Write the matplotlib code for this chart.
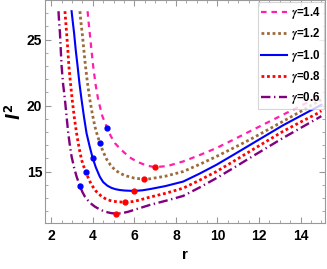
import matplotlib
matplotlib.use("Agg")
import matplotlib.pyplot as plt
from matplotlib.ticker import MultipleLocator

plt.rcParams['font.family'] = ['Liberation Sans', 'DejaVu Sans']
plt.rcParams['font.weight'] = 'bold'
plt.rcParams['mathtext.fontset'] = 'dejavusans'

# curves: r and l^2 for each gamma
r_14 = [3.75, 3.80, 3.86, 3.94, 4.02, 4.13, 4.26, 4.46, 4.69, 4.87, 5.06, 5.3, 5.54, 5.85, 6.2, 6.6,
        7.0, 7.6, 8.34, 9.15, 9.95, 10.75, 11.55, 12.35, 13.15, 13.95, 14.76, 15.0]
l2_14 = [27.15, 26.3, 25.4, 24.15, 22.97, 21.65, 20.44, 19.2, 18.3, 17.68, 17.16, 16.75, 16.4, 16.0, 15.7, 15.45,
         15.33, 15.42, 15.76, 16.25, 16.78, 17.4, 18.04, 18.67, 19.3, 19.93, 20.57, 20.76]

r_12 = [3.38, 3.43, 3.49, 3.57, 3.65, 3.75, 3.86, 3.98, 4.1, 4.22, 4.34, 4.5, 4.66, 4.85, 5.06, 5.3, 5.54,
        6.0, 6.46, 6.75, 7.5, 8.35, 9.15, 9.95, 10.75, 11.55, 12.35, 13.15, 14.0, 14.84, 15.0]
l2_12 = [27.15, 26.3, 25.5, 24.2, 22.97, 21.65, 20.44, 19.35, 18.42, 17.75, 17.16, 16.5, 15.95, 15.5, 15.13, 14.88, 14.7,
         14.5, 14.42, 14.45, 14.65, 15.0, 15.55, 16.14, 16.77, 17.41, 18.1, 18.8, 19.55, 20.3, 20.44]

r_10 = [2.98, 3.04, 3.1, 3.18, 3.27, 3.36, 3.46, 3.58, 3.7, 3.85, 3.99, 4.15, 4.34, 4.5, 4.7, 4.9, 5.1, 5.3, 5.54,
        6.0, 6.4, 6.75, 7.5, 8.35, 9.15, 9.95, 10.75, 11.55, 12.35, 13.15, 14.1, 15.0]
l2_10 = [27.15, 26.3, 25.5, 24.2, 22.97, 21.65, 20.44, 19.1, 17.9, 16.9, 16.05, 15.3, 14.6, 14.2, 13.93, 13.76, 13.66, 13.6, 13.56,
         13.53, 13.58, 13.67, 13.9, 14.24, 14.85, 15.51, 16.25, 17.0, 17.75, 18.5, 19.3, 20.06]

r_08 = [2.66, 2.70, 2.74, 2.8, 2.85, 2.93, 3.01, 3.11, 3.22, 3.34, 3.46, 3.56, 3.67, 3.8, 3.94, 4.15, 4.42,
        4.65, 4.9, 5.2, 5.54, 5.9, 6.2, 6.75, 7.5, 8.35, 9.15, 9.95, 10.75, 11.55, 12.35, 13.15, 14.0, 14.84, 15.0]
l2_08 = [27.15, 26.3, 25.5, 24.2, 22.97, 21.65, 20.44, 19.1, 17.9, 16.8, 15.89, 15.4, 14.95, 14.45, 13.99, 13.52, 13.12,
         12.9, 12.77, 12.7, 12.68, 12.72, 12.82, 13.06, 13.35, 13.74, 14.35, 15.0, 15.75, 16.52, 17.28, 18.04, 18.75, 19.43, 19.6]

r_06 = [2.35, 2.38, 2.42, 2.46, 2.5, 2.57, 2.66, 2.74, 2.82, 2.9, 2.98, 3.1, 3.22, 3.38, 3.5, 3.62, 3.85,
        4.1, 4.35, 4.58, 4.85, 5.1, 5.4, 5.7, 6.2, 6.75, 7.5, 8.35, 9.15, 9.95, 10.75, 11.55, 12.35, 13.15, 14.0, 14.84, 15.0]
l2_06 = [27.15, 26.3, 25.5, 24.2, 22.97, 21.65, 20.44, 19.15, 17.9, 16.95, 16.14, 15.3, 14.62, 13.9, 13.45, 13.1, 12.65,
         12.34, 12.12, 11.96, 11.86, 11.81, 11.84, 11.95, 12.2, 12.47, 12.78, 13.15, 13.8, 14.5, 15.25, 16.02, 16.78, 17.54, 18.3, 19.05, 19.2]

# marked points: minima (red) and blue markers
min_r = [7.0, 6.46, 6.0, 5.54, 5.1]
min_l2 = [15.33, 14.42, 13.53, 12.68, 11.81]
mark_r = [4.69, 4.34, 3.99, 3.67, 3.38]
mark_l2 = [18.3, 17.16, 16.05, 14.95, 13.9]

fig = plt.figure(figsize=(3.27, 2.69), dpi=100)
ax = fig.add_axes([0.1376, 0.171, 0.8578, 0.829])

ax.plot(r_14, l2_14, color='#ff1fae', lw=1.6, linestyle=(0, (2.5, 2.2)), label=r'$\gamma$=1.4')
ax.plot(r_12, l2_12, color='#9c6b3c', lw=2.0, linestyle=(0, (1, 1)), label=r'$\gamma$=1.2')
ax.plot(r_10, l2_10, color='#0000ff', lw=1.5, linestyle='-', label=r'$\gamma$=1.0')
ax.plot(r_08, l2_08, color='#ff0000', lw=2.0, linestyle=(0, (1, 1)), label=r'$\gamma$=0.8')
ax.plot(r_06, l2_06, color='#800080', lw=1.7, linestyle=(0, (4, 1.5, 0.6, 1.5)), label=r'$\gamma$=0.6')

ax.plot(min_r, min_l2, 'o', color='#ff0000', ms=3.5, zorder=5)
ax.plot(mark_r, mark_l2, 'o', color='#0000ff', ms=3.5, zorder=5)

ax.set_xlim(1.7, 15.2)
ax.set_ylim(11.1, 28.0)
ax.xaxis.set_major_locator(MultipleLocator(2))
ax.xaxis.set_minor_locator(MultipleLocator(0.5))
ax.yaxis.set_major_locator(MultipleLocator(5))
ax.yaxis.set_minor_locator(MultipleLocator(1))
ax.tick_params(which='both', direction='in', top=True, right=True, color='#999999')
ax.tick_params(which='major', length=4, labelsize=10, pad=4)
ax.tick_params(which='minor', length=2)
ax.tick_params(axis='y', pad=2)
for s in ax.spines.values():
    s.set_color('#999999')

ax.set_xlabel('r', fontsize=11, fontweight='bold', labelpad=4)
ax.set_ylabel(r'$l^2$', fontsize=12, labelpad=2)

leg = ax.legend(loc='upper right', fontsize=8.3, fancybox=False, edgecolor='#cccccc',
                handlelength=2.2, handletextpad=0.35, labelspacing=0.45,
                borderaxespad=0.15, borderpad=0.3)
leg.get_frame().set_linewidth(0.8)
for t in leg.get_texts():
    t.set_math_fontfamily('stix')

fig.savefig('out.png', dpi=100)
